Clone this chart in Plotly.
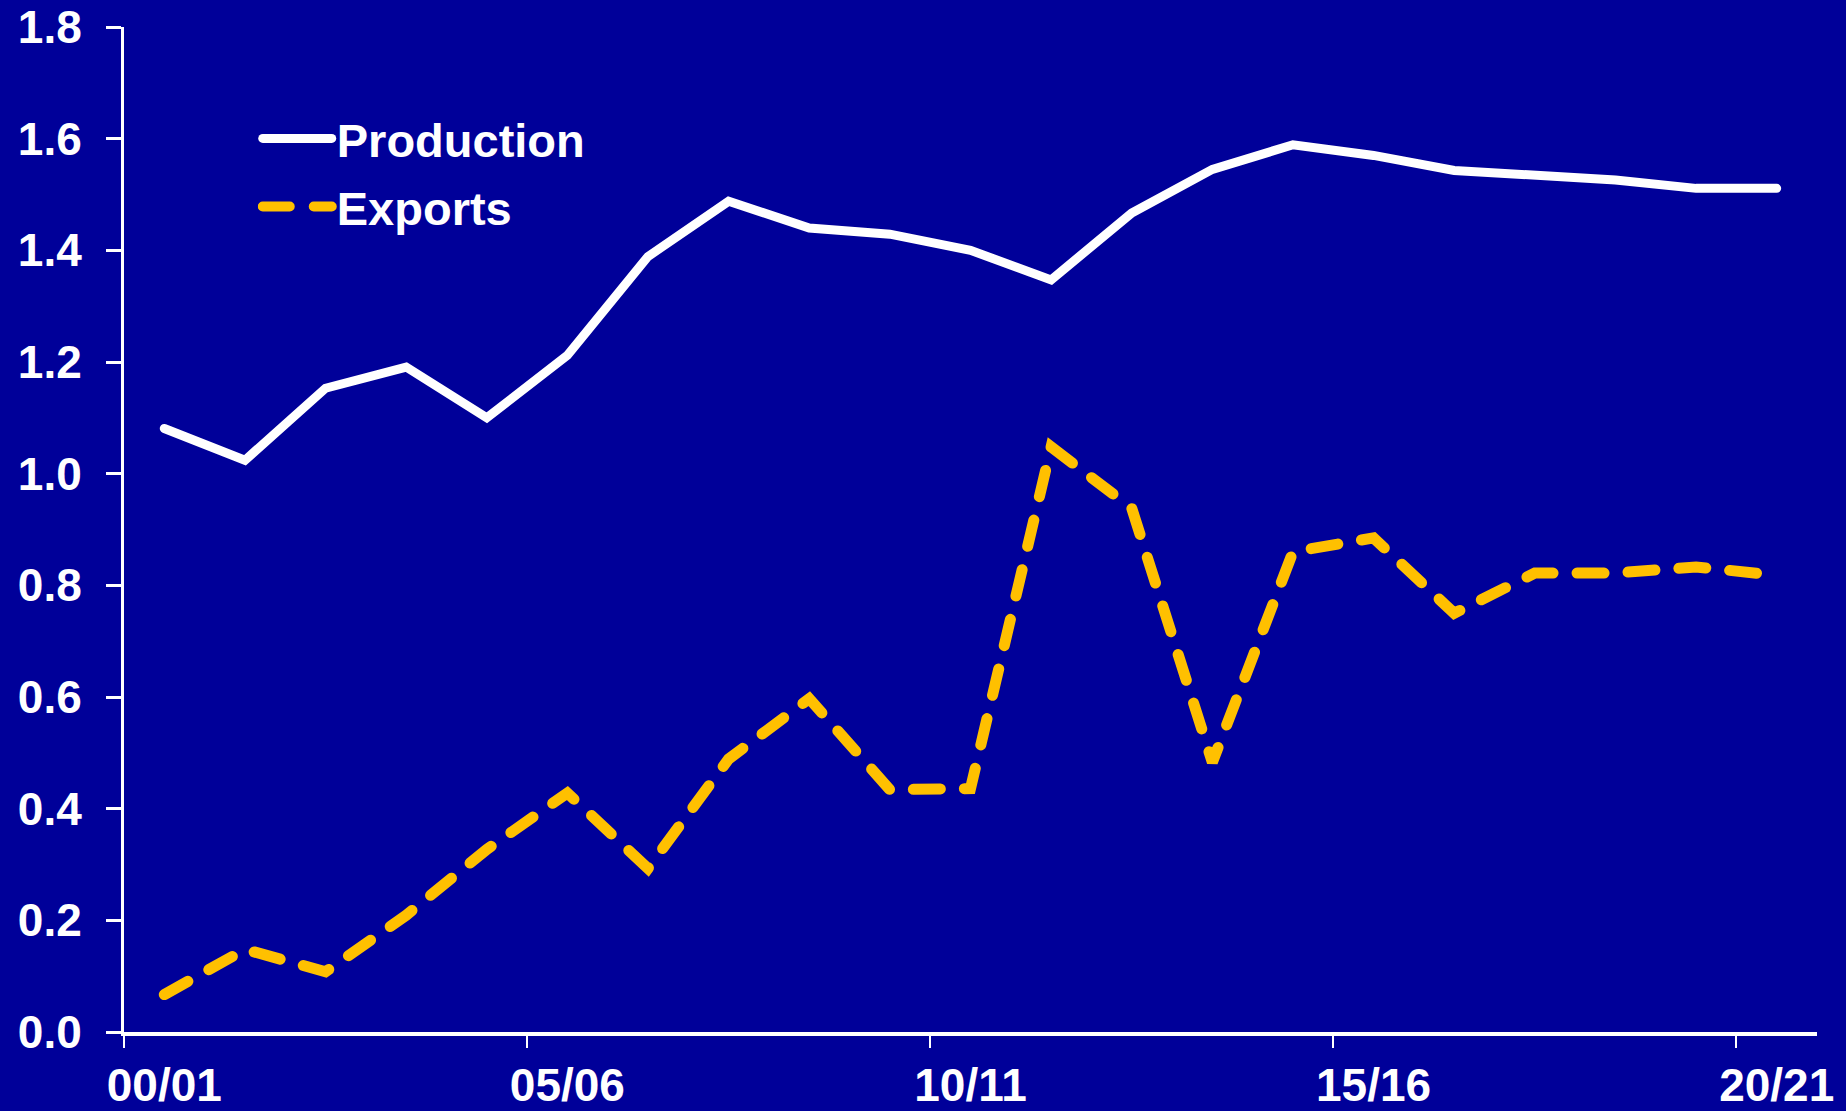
import plotly.graph_objects as go

seasons = ["00/01", "01/02", "02/03", "03/04", "04/05", "05/06", "06/07", "07/08", "08/09", "09/10",
           "10/11", "11/12", "12/13", "13/14", "14/15", "15/16", "16/17", "17/18", "18/19", "19/20", "20/21"]
production = [1.081, 1.024, 1.153, 1.191, 1.100, 1.212, 1.389, 1.488, 1.440, 1.429,
              1.400, 1.347, 1.467, 1.545, 1.589, 1.570, 1.543, 1.535, 1.526, 1.511, 1.511]
exports = [0.067, 0.148, 0.108, 0.209, 0.327, 0.428, 0.293, 0.489, 0.597, 0.434,
           0.436, 1.048, 0.938, 0.483, 0.860, 0.885, 0.750, 0.822, 0.822, 0.833, 0.818]
x_label_seasons = ["00/01", "05/06", "10/11", "15/16", "20/21"]
y_ticks = [0.0, 0.2, 0.4, 0.6, 0.8, 1.0, 1.2, 1.4, 1.6, 1.8]

BG = "#000099"
WHITE = "#FFFFFF"
GOLD = "#FFC000"
FONT = dict(family="Liberation Sans, Arial, sans-serif", size=46, color=WHITE, weight="bold")

idx = list(range(len(seasons)))
label_pos = [seasons.index(s) for s in x_label_seasons]
boundary_pos = [p - 0.5 for p in label_pos]

fig = go.Figure()
fig.add_trace(go.Scatter(x=idx, y=production, mode="lines", name="Production", legendgroup="p",
                         line=dict(color=WHITE, width=9)))
fig.add_trace(go.Scatter(x=idx, y=exports, mode="lines", name="Exports", legendgroup="e",
                         line=dict(color=GOLD, width=11, dash="27px,24px")))

fig.update_layout(
    width=1846, height=1111,
    paper_bgcolor=BG, plot_bgcolor=BG,
    margin=dict(l=124, r=29, t=27, b=79),
    font=FONT,
    showlegend=True,
    legend=dict(x=0.079, y=0.926, xanchor="left", yanchor="top",
                bgcolor="rgba(0,0,0,0)", font=dict(FONT, size=47),
                itemwidth=69, tracegroupgap=4, traceorder="grouped"),
    xaxis=dict(range=[-0.5, len(seasons) - 0.5], tickvals=label_pos, ticktext=x_label_seasons,
               ticks="", showline=True, linecolor=WHITE, linewidth=4, showgrid=False,
               zeroline=False, ticklabelstandoff=10, tickfont=FONT, automargin=False,
               ticklabeloverflow="allow",
               minor=dict(tickvals=boundary_pos, ticks="outside", ticklen=12, tickwidth=2,
                          tickcolor=WHITE, showgrid=False)),
    yaxis=dict(range=[0, 1.8], tickvals=y_ticks, tickformat=".1f", ticks="outside",
               ticklen=15, tickwidth=3, tickcolor=WHITE, showline=True, linecolor=WHITE,
               linewidth=3, showgrid=False, zeroline=False, ticklabelstandoff=15, tickfont=FONT,
               automargin=False, ticklabeloverflow="allow"),
)

post = """
document.body.style.margin = '0';
document.body.style.background = '#000099';
var gd = document.getElementById('{plot_id}');
function fixCaps(){
  gd.querySelectorAll('.scatterlayer path.js-line, .legendlines path').forEach(function(p){
    p.style.strokeLinecap = 'round';
  });
}
fixCaps();
gd.on('plotly_afterplot', fixCaps);
"""
fig.write_html("out.html", post_script=post, config={"displayModeBar": False})
